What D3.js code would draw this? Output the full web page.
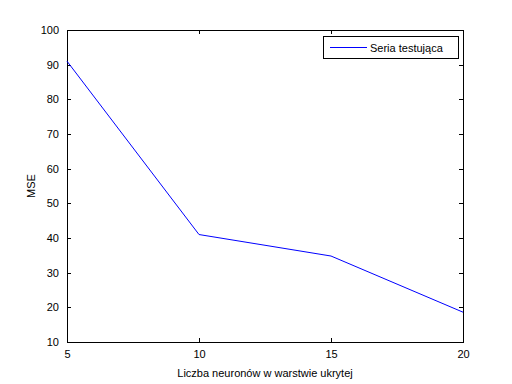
<!DOCTYPE html>
<html><head><meta charset="utf-8">
<script src="https://cdn.jsdelivr.net/npm/d3@7"></script>
<style>body{margin:0;background:#fff}svg{display:block}text{font-family:"Liberation Sans",Arial,sans-serif;font-size:11px;fill:#000}</style>
</head><body>
<script>
const neurons = [5, 10, 15, 20];
const mse = [91, 41, 34.8, 18.6];
const xTicks = [5, 10, 15, 20];
const yTicks = [10, 20, 30, 40, 50, 60, 70, 80, 90, 100];
const seriesName = "Seria testująca";
const xLabel = "Liczba neuronów w warstwie ukrytej";
const yLabel = "MSE";

const W = 512, H = 384;
const L = 67, R = 463, T = 30, B = 342;
const svg = d3.select("body").append("svg").attr("width", W).attr("height", H);
const x = d3.scaleLinear().domain([5, 20]).range([L, R]);
const y = d3.scaleLinear().domain([10, 100]).range([B, T]);

svg.append("rect").attr("x", L).attr("y", T).attr("width", R - L).attr("height", B - T)
  .attr("fill", "#fff").attr("stroke", "#000").attr("stroke-width", 1).attr("shape-rendering", "crispEdges");

const tk = 4;
const gx = svg.append("g").attr("transform", `translate(0,${B})`)
  .call(d3.axisBottom(x).tickValues(xTicks).tickSizeInner(-tk).tickSizeOuter(0).tickPadding(8));
const gxt = svg.append("g").attr("transform", `translate(0,${T})`)
  .call(d3.axisTop(x).tickValues(xTicks).tickSizeInner(-tk).tickSizeOuter(0).tickFormat(""));
const gy = svg.append("g").attr("transform", `translate(${L},0)`)
  .call(d3.axisLeft(y).tickValues(yTicks).tickSizeInner(-tk).tickSizeOuter(0).tickPadding(8));
const gyr = svg.append("g").attr("transform", `translate(${R},0)`)
  .call(d3.axisRight(y).tickValues(yTicks).tickSizeInner(-tk).tickSizeOuter(0).tickFormat(""));
[gx, gxt, gy, gyr].forEach(g => {
  g.select(".domain").remove();
  g.selectAll("line").attr("stroke", "#000").attr("shape-rendering", "crispEdges");
  g.selectAll("text").style("font-family", '"Liberation Sans",Arial,sans-serif').style("font-size", "11px").attr("fill", "#000");
});
gx.selectAll("text").attr("dy", "0.71em");

const line = d3.line().x((d, i) => x(neurons[i])).y(d => y(d));
svg.append("path").datum(mse).attr("d", line).attr("fill", "none").attr("stroke", "#0000ff").attr("stroke-width", 1);

// legend
const lg = svg.append("g");
lg.append("rect").attr("x", 323.5).attr("y", 36.5).attr("width", 135).attr("height", 22)
  .attr("fill", "#fff").attr("stroke", "#000");
lg.append("line").attr("x1", 330).attr("x2", 367).attr("y1", 47.5).attr("y2", 47.5).attr("stroke", "#0000ff");
lg.append("text").attr("x", 370).attr("y", 51.5).text(seriesName);

svg.append("text").attr("x", (L + R) / 2).attr("y", 377).attr("text-anchor", "middle").text(xLabel);
svg.append("text").attr("transform", `translate(35,${(T + B) / 2}) rotate(-90)`).attr("text-anchor", "middle").text(yLabel);
</script>
</body></html>
